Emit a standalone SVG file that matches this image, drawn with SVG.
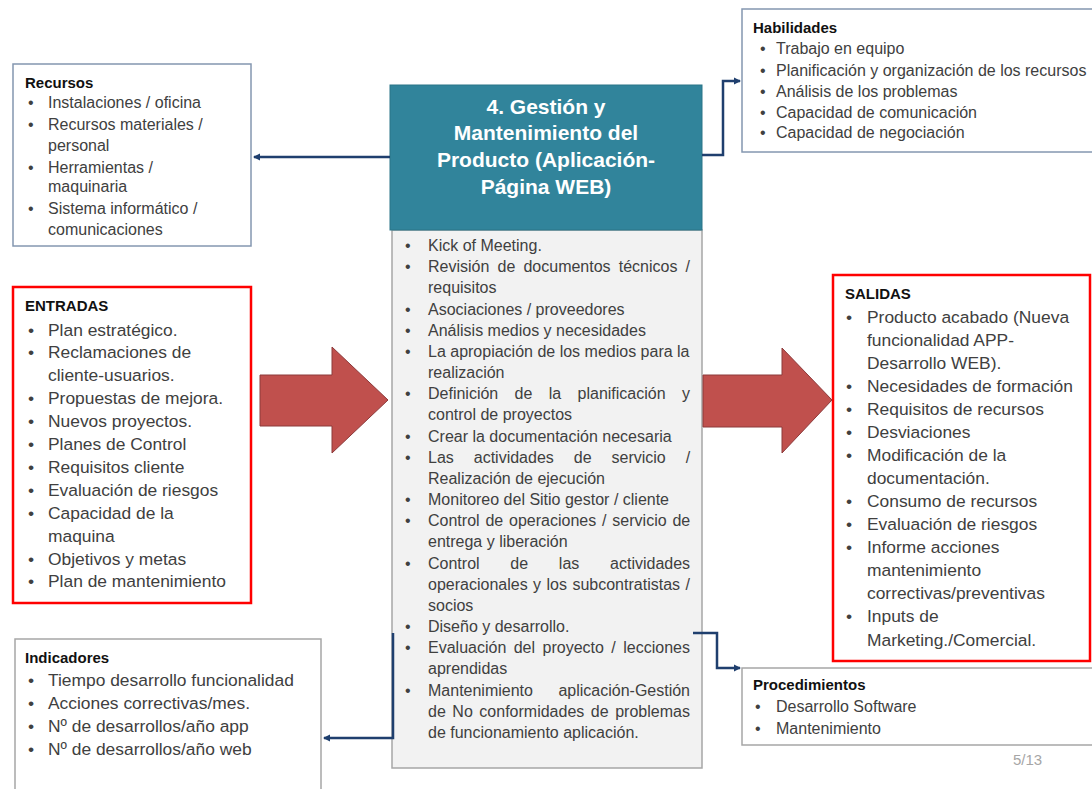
<svg xmlns="http://www.w3.org/2000/svg" width="1092" height="789" viewBox="0 0 1092 789">
<style>
.bg{fill:#ffffff}
.box{fill:#ffffff;stroke:#a6a6a6;stroke-width:1.5}
.boxb{fill:#ffffff;stroke:#8497b0;stroke-width:1.5}
.boxr{fill:#ffffff;stroke:#ff0000;stroke-width:2.5}
.hd{font-family:"Liberation Sans",Arial,sans-serif;font-weight:bold;font-size:15px;fill:#111111}
.t15{font-family:"Liberation Sans",Arial,sans-serif;font-size:16px;fill:#404040}
.t16{font-family:"Liberation Sans",Arial,sans-serif;font-size:16px;fill:#404040}
.t17{font-family:"Liberation Sans",Arial,sans-serif;font-size:17.4px;fill:#404040}
.title{font-family:"Liberation Sans",Arial,sans-serif;font-weight:bold;font-size:21px;fill:#ffffff;text-anchor:middle}
.conn{fill:none;stroke:#1f3f6e;stroke-width:2.5}
.big{fill:#c0504d;stroke:#8c3a3b;stroke-width:1}
.pg{font-family:"Liberation Sans",Arial,sans-serif;font-size:15px;fill:#a6a6a6}
</style>
<defs>
<marker id="ah" markerWidth="8" markerHeight="8" refX="6" refY="4" orient="auto" markerUnits="userSpaceOnUse">
<path d="M0,0.5 L7,4 L0,7.5 Z" fill="#1f3f6e"/>
</marker>
</defs>
<rect class="bg" x="0" y="0" width="1092" height="789"/>

<g id="recursos">
<rect class="boxb" x="13" y="64" width="238" height="182"/>
<text class="hd" x="25" y="88">Recursos</text>
<text class="t15" x="28" y="108">•</text><text class="t15" x="48" y="108">Instalaciones / oficina</text>
<text class="t15" x="28" y="130">•</text><text class="t15" x="48" y="130">Recursos materiales /</text>
<text class="t15" x="48" y="151">personal</text>
<text class="t15" x="28" y="173">•</text><text class="t15" x="48" y="173">Herramientas /</text>
<text class="t15" x="48" y="192">maquinaria</text>
<text class="t15" x="28" y="214">•</text><text class="t15" x="48" y="214">Sistema informático /</text>
<text class="t15" x="48" y="235">comunicaciones</text>
</g>

<g id="habilidades">
<rect class="boxb" x="742" y="9" width="360" height="143"/>
<text class="hd" x="753" y="33">Habilidades</text>
<text class="t15" x="760" y="54">•</text><text class="t15" x="776" y="54">Trabajo en equipo</text>
<text class="t15" x="760" y="76">•</text><text class="t15" x="776" y="76">Planificación y organización de los recursos</text>
<text class="t15" x="760" y="97">•</text><text class="t15" x="776" y="97">Análisis de los problemas</text>
<text class="t15" x="760" y="118">•</text><text class="t15" x="776" y="118">Capacidad de comunicación</text>
<text class="t15" x="760" y="138">•</text><text class="t15" x="776" y="138">Capacidad de negociación</text>
</g>

<g id="proceso">
<rect x="392" y="230" width="310" height="538" fill="#f2f2f2" stroke="#a6a6a6" stroke-width="1.5"/>
<rect x="390" y="85" width="312" height="145" fill="#31849b" stroke="#2b7487" stroke-width="1"/>
<text class="title" x="546" y="114">4. Gestión y</text>
<text class="title" x="546" y="140">Mantenimiento del</text>
<text class="title" x="546" y="167">Producto (Aplicación-</text>
<text class="title" x="546" y="194">Página WEB)</text>
<text class="t16" x="405" y="251">•</text><text class="t16" x="428" y="251">Kick of Meeting.</text>
<text class="t16" x="405" y="272.2">•</text><text class="t16" x="428" y="272.2" word-spacing="3.7">Revisión de documentos técnicos /</text>
<text class="t16" x="428" y="293.3">requisitos</text>
<text class="t16" x="405" y="314.5">•</text><text class="t16" x="428" y="314.5">Asociaciones / proveedores</text>
<text class="t16" x="405" y="335.7">•</text><text class="t16" x="428" y="335.7">Análisis medios y necesidades</text>
<text class="t16" x="405" y="356.9">•</text><text class="t16" x="428" y="356.9">La apropiación de los medios para la</text>
<text class="t16" x="428" y="378">realización</text>
<text class="t16" x="405" y="399.2">•</text><text class="t16" x="428" y="399.2" word-spacing="11.9">Definición de la planificación y</text>
<text class="t16" x="428" y="420.4">control de proyectos</text>
<text class="t16" x="405" y="441.5">•</text><text class="t16" x="428" y="441.5">Crear la documentación necesaria</text>
<text class="t16" x="405" y="462.7">•</text><text class="t16" x="428" y="462.7" word-spacing="15.5">Las actividades de servicio /</text>
<text class="t16" x="428" y="483.9">Realización de ejecución</text>
<text class="t16" x="405" y="505">•</text><text class="t16" x="428" y="505">Monitoreo del Sitio gestor / cliente</text>
<text class="t16" x="405" y="526.2">•</text><text class="t16" x="428" y="526.2" word-spacing="1.4">Control de operaciones / servicio de</text>
<text class="t16" x="428" y="547.4">entrega y liberación</text>
<text class="t16" x="405" y="568.6">•</text><text class="t16" x="428" y="568.6" word-spacing="26.3">Control de las actividades</text>
<text class="t16" x="428" y="589.7" word-spacing="1">operacionales y los subcontratistas /</text>
<text class="t16" x="428" y="610.9">socios</text>
<text class="t16" x="405" y="632.1">•</text><text class="t16" x="428" y="632.1">Diseño y desarrollo.</text>
<text class="t16" x="405" y="653.2">•</text><text class="t16" x="428" y="653.2" word-spacing="3">Evaluación del proyecto / lecciones</text>
<text class="t16" x="428" y="674.4">aprendidas</text>
<text class="t16" x="405" y="695.6">•</text><text class="t16" x="428" y="695.6" word-spacing="21">Mantenimiento aplicación-Gestión</text>
<text class="t16" x="428" y="716.7" word-spacing="2.1">de No conformidades de problemas</text>
<text class="t16" x="428" y="737.9">de funcionamiento aplicación.</text>
</g>

<g id="entradas">
<rect class="boxr" x="13" y="287" width="238" height="316"/>
<text class="hd" x="25" y="311">ENTRADAS</text>
<text class="t17" x="28" y="335.5">•</text><text class="t17" x="48" y="335.5">Plan estratégico.</text>
<text class="t17" x="28" y="358.4">•</text><text class="t17" x="48" y="358.4">Reclamaciones de</text>
<text class="t17" x="48" y="381.3">cliente-usuarios.</text>
<text class="t17" x="28" y="404.2">•</text><text class="t17" x="48" y="404.2">Propuestas de mejora.</text>
<text class="t17" x="28" y="427.1">•</text><text class="t17" x="48" y="427.1">Nuevos proyectos.</text>
<text class="t17" x="28" y="450">•</text><text class="t17" x="48" y="450">Planes de Control</text>
<text class="t17" x="28" y="472.9">•</text><text class="t17" x="48" y="472.9">Requisitos cliente</text>
<text class="t17" x="28" y="495.8">•</text><text class="t17" x="48" y="495.8">Evaluación de riesgos</text>
<text class="t17" x="28" y="518.7">•</text><text class="t17" x="48" y="518.7">Capacidad de la</text>
<text class="t17" x="48" y="541.6">maquina</text>
<text class="t17" x="28" y="564.5">•</text><text class="t17" x="48" y="564.5">Objetivos y metas</text>
<text class="t17" x="28" y="587.4">•</text><text class="t17" x="48" y="587.4">Plan de mantenimiento</text>
</g>

<g id="salidas">
<rect class="boxr" x="833" y="275" width="257" height="386"/>
<text class="hd" x="845" y="298.5">SALIDAS</text>
<text class="t17" x="846" y="322.5">•</text><text class="t17" x="867" y="322.5">Producto acabado (Nueva</text>
<text class="t17" x="867" y="345.6">funcionalidad APP-</text>
<text class="t17" x="867" y="368.6">Desarrollo WEB).</text>
<text class="t17" x="846" y="391.7">•</text><text class="t17" x="867" y="391.7">Necesidades de formación</text>
<text class="t17" x="846" y="414.8">•</text><text class="t17" x="867" y="414.8">Requisitos de recursos</text>
<text class="t17" x="846" y="437.9">•</text><text class="t17" x="867" y="437.9">Desviaciones</text>
<text class="t17" x="846" y="460.9">•</text><text class="t17" x="867" y="460.9">Modificación de la</text>
<text class="t17" x="867" y="484">documentación.</text>
<text class="t17" x="846" y="507.1">•</text><text class="t17" x="867" y="507.1">Consumo de recursos</text>
<text class="t17" x="846" y="530.1">•</text><text class="t17" x="867" y="530.1">Evaluación de riesgos</text>
<text class="t17" x="846" y="553.2">•</text><text class="t17" x="867" y="553.2">Informe acciones</text>
<text class="t17" x="867" y="576.3">mantenimiento</text>
<text class="t17" x="867" y="599.3">correctivas/preventivas</text>
<text class="t17" x="846" y="622.4">•</text><text class="t17" x="867" y="622.4">Inputs de</text>
<text class="t17" x="867" y="645.5">Marketing./Comercial.</text>
</g>

<g id="indicadores">
<rect class="box" x="15" y="639" width="306" height="170"/>
<text class="hd" x="25" y="663">Indicadores</text>
<text class="t17" x="28" y="685.5">•</text><text class="t17" x="48" y="685.5">Tiempo desarrollo funcionalidad</text>
<text class="t17" x="28" y="708.5">•</text><text class="t17" x="48" y="708.5">Acciones correctivas/mes.</text>
<text class="t17" x="28" y="731.5">•</text><text class="t17" x="48" y="731.5">Nº de desarrollos/año app</text>
<text class="t17" x="28" y="754.5">•</text><text class="t17" x="48" y="754.5">Nº de desarrollos/año web</text>
</g>

<g id="procedimientos">
<rect class="box" x="742" y="668" width="360" height="77"/>
<text class="hd" x="753" y="690">Procedimientos</text>
<text class="t16" x="755" y="711.5">•</text><text class="t16" x="776" y="711.5">Desarrollo Software</text>
<text class="t16" x="755" y="733.5">•</text><text class="t16" x="776" y="733.5">Mantenimiento</text>
</g>

<g id="connectors">
<path class="conn" d="M390,157 H254" marker-end="url(#ah)"/>
<path class="conn" d="M702,155 H723 V81 H740" marker-end="url(#ah)"/>
<path class="conn" d="M393,633 V738 H324" marker-end="url(#ah)"/>
<path class="conn" d="M693,633 H717 V668 H740" marker-end="url(#ah)"/>
<polygon class="big" points="260,375 332,375 332,347 388,400 332,453 332,426 260,426"/>
<polygon class="big" points="703,375 782,375 782,348 832,400 782,453 782,427 703,427"/>
</g>

<text class="pg" x="1013" y="765">5/13</text>
</svg>
